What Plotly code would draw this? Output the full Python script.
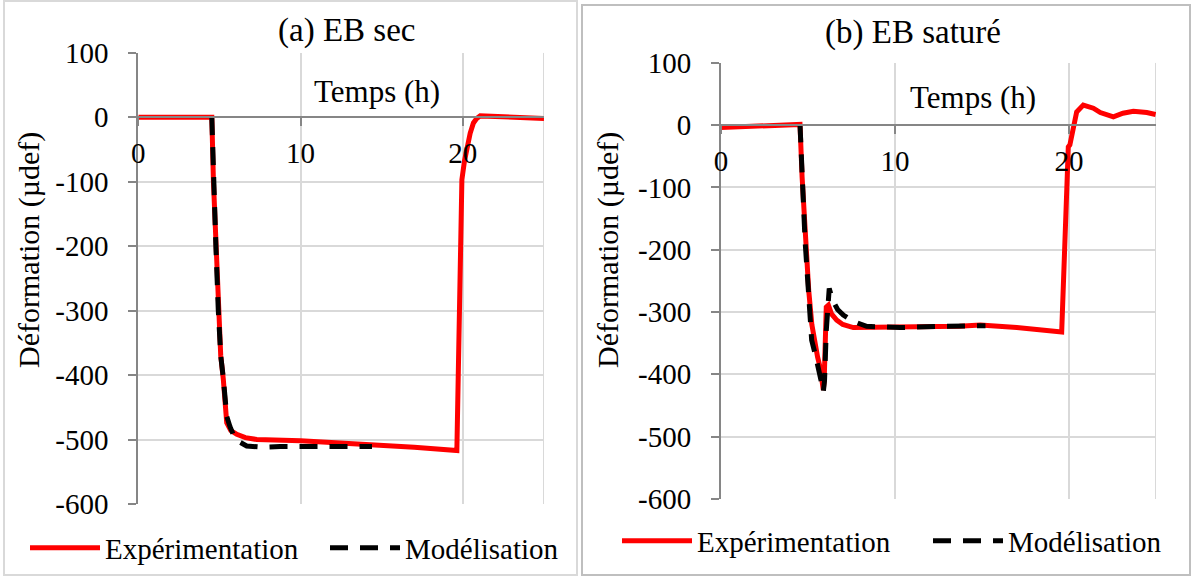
import plotly.graph_objects as go

W, H = 1192, 577

# (a) EB sec
t_exp_a = [0, 2, 4.4, 4.53, 4.63, 4.78, 4.93, 5.08, 5.24, 5.35, 5.45, 5.7, 6.07, 6.6, 7.3,
           10.0, 12.5, 14.9, 17.0, 19.63, 19.7, 19.77, 19.85, 19.94, 20.1, 20.25, 20.45,
           20.65, 20.85, 21.07, 22.5, 23.5, 24.5, 25.0]
d_exp_a = [0, 0, 0, 0, -100, -200, -300, -370, -407, -445, -474, -486, -492, -497, -500,
           -502, -505, -508, -512, -517, -400, -300, -180, -97, -68, -46, -25,
           -9, -2, 2, 0, -1, -3, -2]
t_mod_a = [4.53, 4.63, 4.78, 4.93, 5.08, 5.24, 5.45, 5.65, 5.9, 6.17, 6.68, 7.7, 8.74,
           11.2, 13.7, 14.4]
d_mod_a = [0, -100, -200, -300, -370, -405, -464, -480, -495, -503, -510, -512, -511,
           -511, -511, -511]

# (b) EB saturé
t_exp_b = [0, 1.5, 3.0, 4.54, 4.66, 4.85, 5.04, 5.22, 5.4, 5.55, 5.69, 5.8, 5.88, 5.93,
           5.98, 6.05, 6.17, 6.35, 6.65, 7.0, 7.6, 9.9, 12.0, 13.7, 14.9, 17.0, 19.58,
           19.67, 19.77, 19.87, 19.96, 20.05, 20.25, 20.44, 20.82, 21.4, 21.8, 22.17,
           22.55, 23.1, 23.7, 24.47, 24.98]
d_exp_b = [-4, -3, -1, 1, -83, -185, -265, -320, -356, -372, -388, -405, -425, -410,
           -297, -292, -289, -303, -313, -320, -325, -325, -324, -323, -321, -325, -332,
           -249, -160, -88, -35, -32, -3, 21, 32, 27, 20, 16, 13, 19, 22, 20, 17]
t_mod_b = [4.54, 4.64, 4.83, 5.02, 5.21, 5.45, 5.65, 5.79, 5.88, 5.95, 6.05, 6.22, 6.4,
           6.7, 7.03, 7.6, 8.37, 10.29, 12.5, 15.2]
d_mod_b = [1, -83, -185, -265, -345, -372, -393, -415, -428, -410, -330, -262, -280,
           -296, -305, -315, -323, -325, -323, -322]

y_ticks = [100, 0, -100, -200, -300, -400, -500, -600]
y_labels = ["100", "0", "-100", "-200", "-300", "-400", "-500", "-600"]
x_ticks = [0, 10, 20]

FONT = "Liberation Serif"
RED = "#ff0000"
GRID = "#d9d9d9"
AXIS = "#868686"


def px(x):
    return x / W


def py(y):
    return 1 - y / H


fig = go.Figure()

fig.add_trace(go.Scatter(x=t_exp_a, y=d_exp_a, mode="lines", name="Expérimentation",
                         line=dict(color=RED, width=5), xaxis="x", yaxis="y",
                         legend="legend"))
fig.add_trace(go.Scatter(x=t_mod_a, y=d_mod_a, mode="lines", name="Modélisation",
                         line=dict(color="black", width=5, dash="18px,12px"),
                         xaxis="x", yaxis="y", legend="legend"))
fig.add_trace(go.Scatter(x=t_exp_b, y=d_exp_b, mode="lines", name="Expérimentation",
                         line=dict(color=RED, width=5), xaxis="x2", yaxis="y2",
                         legend="legend2"))
fig.add_trace(go.Scatter(x=t_mod_b, y=d_mod_b, mode="lines", name="Modélisation",
                         line=dict(color="black", width=5, dash="18px,12px"),
                         xaxis="x2", yaxis="y2", legend="legend2"))

tickfont = dict(family=FONT, size=29, color="black")

# panel geometry in pixels
panels = [
    dict(x0=138.3, x1=544, ytop=52.7, ybot=504, zero=117.3),
    dict(x0=721, x1=1156, ytop=62.7, ybot=499, zero=125),
]

layout = dict(width=W, height=H, margin=dict(l=0, r=0, t=0, b=0, autoexpand=False),
              plot_bgcolor="white", paper_bgcolor="white", showlegend=True)

for i, p in enumerate(panels):
    sfx = "" if i == 0 else str(i + 1)
    layout["xaxis" + sfx] = dict(
        domain=[px(p["x0"]), px(p["x1"])], range=[0, 25], anchor="free",
        position=py(p["zero"]), tickvals=x_ticks, ticks="outside", ticklen=8,
        tickcolor=AXIS, tickwidth=2, showline=True, linecolor=AXIS, linewidth=2,
        showgrid=True, gridcolor=GRID, gridwidth=2, zeroline=False, automargin=False,
        tickfont=tickfont, ticklabelstandoff=2)
    layout["yaxis" + sfx] = dict(
        domain=[py(p["ybot"]), py(p["ytop"])], range=[-600, 100],
        anchor="x" + sfx, tickvals=y_ticks, ticktext=y_labels, ticks="outside",
        ticklen=8, tickcolor=AXIS, tickwidth=2, showline=True, linecolor=AXIS,
        linewidth=2, showgrid=True, gridcolor=GRID, gridwidth=2, zeroline=False,
        automargin=False, tickfont=tickfont, ticklabelstandoff=14)

legend_common = dict(orientation="h", xanchor="left", yanchor="middle",
                     font=dict(family=FONT, size=29, color="black"),
                     bgcolor="rgba(0,0,0,0)", itemwidth=70)
layout["legend"] = dict(legend_common, x=px(25), y=py(548), entrywidth=215)
layout["legend2"] = dict(legend_common, x=px(617), y=py(541), entrywidth=226)

fig.update_layout(**layout)

# right-edge gridline at 25 h
for sfx in ["", "2"]:
    fig.add_shape(type="line", xref="x" + sfx, yref="y" + sfx, x0=25, x1=25,
                  y0=-600, y1=100, line=dict(color=GRID, width=2), layer="below")

# panel frames
fig.add_shape(type="rect", xref="paper", yref="paper", x0=px(4), x1=px(577),
              y0=py(575), y1=py(1), line=dict(color=GRID, width=2))
fig.add_shape(type="rect", xref="paper", yref="paper", x0=px(582), x1=px(1190),
              y0=py(575), y1=py(5), line=dict(color="#bfbfbf", width=2))

texts = [
    ("(a) EB sec", 346, 30, 33, 0),
    ("(b) EB saturé", 913, 33, 33, 0),
    ("Temps (h)", 377, 92, 31, 0),
    ("Temps (h)", 973, 97, 31, 0),
    ("Déformation (µdef)", 29, 250, 30, -90),
    ("Déformation (µdef)", 608, 250, 30, -90),
]
for txt, x, y, s, ang in texts:
    fig.add_annotation(text=txt, xref="paper", yref="paper", x=px(x), y=py(y),
                       showarrow=False, textangle=ang, xanchor="center",
                       yanchor="middle", font=dict(family=FONT, size=s, color="black"))

fig.write_html("out.html", config={"displayModeBar": False},
               post_script="document.body.style.margin='0';"
                           "document.body.style.overflow='hidden';")
